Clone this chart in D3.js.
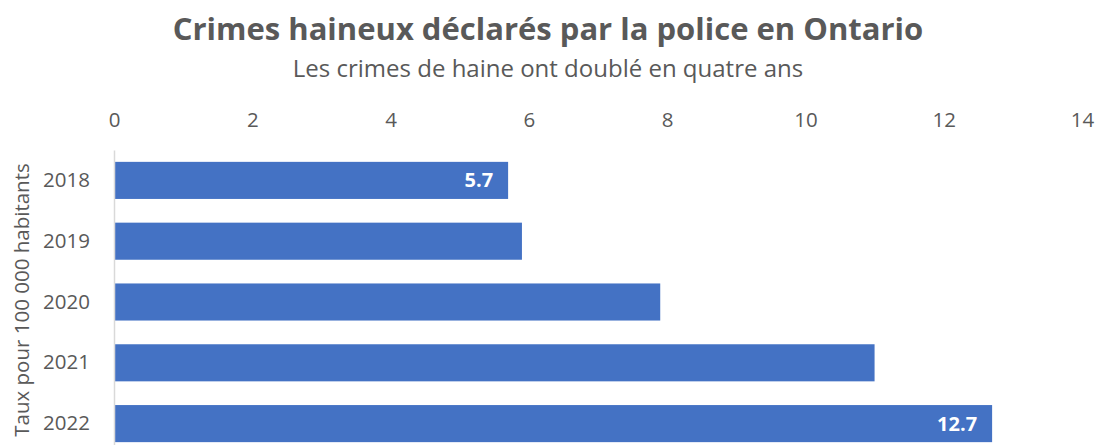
<!DOCTYPE html>
<html>
<head>
<meta charset="utf-8">
<script src="https://cdn.jsdelivr.net/npm/d3@7"></script>
<style>
  body { margin: 0; background: #fff; }
  svg { font-family: "Open Sans", "Noto Sans", sans-serif; }
</style>
</head>
<body>
<svg id="chart" width="1098" height="445"></svg>
<script>
// ============
// DATA
// ============
const years = ["2018", "2019", "2020", "2021", "2022"];
const rates = [5.7, 5.9, 7.9, 11.0, 12.7];
const labelledYears = ["2018", "2022"];
const xTicks = [0, 2, 4, 6, 8, 10, 12, 14];

const titleText = "Crimes haineux déclarés par la police en Ontario";
const subtitleText = "Les crimes de haine ont doublé en quatre ans";
const yTitleText = "Taux pour 100 000 habitants";

const svg = d3.select("#chart");
const textColor = "#595959";

// ============
// SCALES
// ============
const x = d3.scaleLinear().domain([0, 14]).range([114, 1082]);
const y = d3.scaleBand().domain(years).range([150, 454]).paddingInner(0.39).paddingOuter(0.195);

// ============
// TITLES
// ============
svg.append("text")
  .attr("x", 548).attr("y", 40)
  .attr("text-anchor", "middle")
  .attr("font-weight", "bold")
  .attr("font-size", 31)
  .attr("fill", textColor)
  .text(titleText);

svg.append("text")
  .attr("x", 548).attr("y", 77)
  .attr("text-anchor", "middle")
  .attr("font-size", 24)
  .attr("fill", textColor)
  .text(subtitleText);

// ============
// X AXIS (top)
// ============
const xAxis = svg.append("g")
  .attr("transform", "translate(0,127)")
  .call(d3.axisTop(x).tickValues(xTicks).tickSize(0).tickPadding(0));
xAxis.select(".domain").remove();
xAxis.selectAll("text")
  .attr("dy", 0)
  .attr("font-size", 20.5)
  .attr("font-family", "Open Sans, sans-serif")
  .attr("fill", textColor);

// ============
// BARS
// ============
svg.append("g")
  .selectAll("rect")
  .data(years)
  .enter()
  .append("rect")
    .attr("x", x(0))
    .attr("y", d => y(d))
    .attr("width", (d, i) => x(rates[i]) - x(0))
    .attr("height", y.bandwidth())
    .attr("fill", "#4472C4");

// data labels
svg.append("g")
  .selectAll("text")
  .data(years.filter(d => labelledYears.includes(d)))
  .enter()
  .append("text")
    .attr("x", d => x(rates[years.indexOf(d)]) - 15)
    .attr("y", d => y(d) + y.bandwidth() / 2)
    .attr("dy", "0.35em")
    .attr("text-anchor", "end")
    .attr("font-weight", "bold")
    .attr("font-size", 20)
    .attr("fill", "#fff")
    .text(d => rates[years.indexOf(d)].toFixed(1));

// ============
// Y AXIS
// ============
const yAxis = svg.append("g")
  .attr("transform", "translate(" + x(0) + ",0)")
  .call(d3.axisLeft(y).tickSize(0).tickPadding(24));
yAxis.select(".domain")
  .attr("stroke", "#d9d9d9")
  .attr("stroke-width", 1.5);
yAxis.selectAll("text")
  .attr("font-size", 20.5)
  .attr("font-family", "Open Sans, sans-serif")
  .attr("fill", textColor);

svg.append("text")
  .attr("text-anchor", "middle")
  .attr("transform", "translate(22," + 300 + ")rotate(-90)")
  .attr("dy", "0.35em")
  .attr("font-size", 20.5)
  .attr("fill", textColor)
  .text(yTitleText);
</script>
</body>
</html>
